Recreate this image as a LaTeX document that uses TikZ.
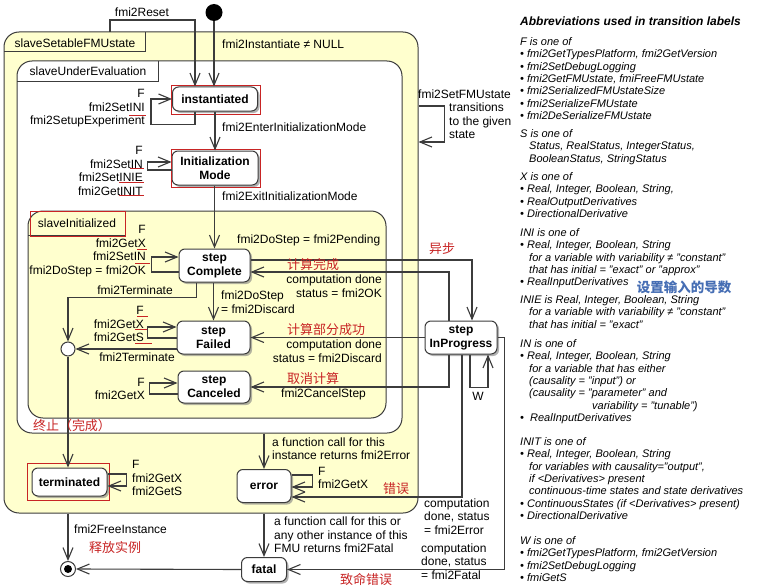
\documentclass[tikz,border=0pt]{standalone}
\usepackage{fontspec}
\setmainfont{Liberation Sans}
\newfontfamily\cjk{Noto Sans CJK SC}
\usetikzlibrary{arrows.meta,shadows}
\definecolor{linec}{RGB}{60,60,60}
\definecolor{compy}{RGB}{255,255,206}
\definecolor{hlred}{RGB}{200,36,36}
\definecolor{cnblue}{RGB}{70,110,180}
\tikzset{
  state/.style={draw=linec, fill=white, rounded corners=6pt, line width=1pt, inner sep=0pt, align=center,
    font=\bfseries\fontsize{12}{14}\selectfont, drop shadow={shadow xshift=2pt, shadow yshift=-2pt, fill=black!50, opacity=0.6}},
  comp/.style={draw=linec, line width=1pt, rounded corners=15pt, inner sep=0pt},
  tr/.style={draw=linec, line width=1.1pt, -{Straight Barb[length=12pt,width=10pt]}},
  lbl/.style={inner sep=0pt, align=left, font=\fontsize{12}{13.5}\selectfont},
  lblr/.style={lbl, align=right},
  cn/.style={inner sep=0pt, text=hlred, font=\cjk\fontsize{13}{14}\selectfont},
  hl/.style={draw=hlred, line width=0.9pt},
  abbr/.style={inner sep=0pt, anchor=north west, align=left, font=\itshape\fontsize{11}{12.3}\selectfont},
}

\begin{document}
\begin{tikzpicture}[x=1pt, y=-1pt]
		%%%%% START %%%%%
		\fill[white] (0,0) rectangle (758,586);
		\useasboundingbox (0,0) rectangle (758,586);
		
		% composite states
		\node[comp, fill=compy, minimum width=414pt, minimum height=481pt] (setable) at (211,272.5) {};
		\draw[linec, line width=1pt] (4,52) -| (145,32);
		\node[lbl] (tsetable) at (75,43) {slaveSetableFMUstate};
		
		\node[comp, fill=white, minimum width=385pt, minimum height=372pt] (undereval) at (209.5,247) {};
		\draw[linec, line width=1pt] (17,82) -| (158,61);
		\node[lbl] (tundereval) at (88,71) {slaveUnderEvaluation};
		
		\node[comp, fill=compy, minimum width=358pt, minimum height=207pt] (initd) at (207,314.5) {};
		\draw[linec, line width=1pt] (28,235) -| (125,211);
		\node[lbl] (tinitd) at (77,223) {slaveInitialized};
		\draw[hl] (30,211) rectangle (125,236);
		
		% states
		\node[fill=black, circle, minimum size=17pt, inner sep=0pt] (init) at (214,12.5) {};
		\node[state, minimum width=85pt, minimum height=24pt] (inst) at (215,99) {instantiated};
		\node[state, minimum width=86pt, minimum height=34pt] (initm) at (215,168) {Initialization\\Mode};
		\node[state, minimum width=71pt, minimum height=33pt] (stepc) at (214.5,265.5) {step\\Complete};
		\node[state, minimum width=73pt, minimum height=33pt] (stepf) at (213.5,337.5) {step\\Failed};
		\node[state, minimum width=72pt, minimum height=32pt] (stepx) at (214,387) {step\\Canceled};
		\node[state, minimum width=72pt, minimum height=33pt] (stepp) at (461,337.5) {step\\InProgress};
		\node[state, minimum width=75pt, minimum height=28pt] (term) at (69.5,482) {terminated};
		\node[state, minimum width=54pt, minimum height=33pt] (err) at (264,486) {error};
		\node[state, minimum width=45pt, minimum height=24pt] (fatal) at (264,569.5) {fatal};
		\node[draw=linec, fill=white, circle, line width=1pt, minimum size=14pt, inner sep=0pt] (junc) at (68,349) {};
		\node[draw=linec, fill=white, circle, line width=1pt, minimum size=15pt, inner sep=0pt,
			path picture={\fill[black] (path picture bounding box.center) circle (4pt);}] (final) at (68,569) {};
		
		% red highlights
		\draw[hl] (171,85) rectangle (260,114);
		\draw[hl] (171,149) rectangle (260,187);
		\draw[hl] (27,463) rectangle (109,500);
		\draw[hl] (129,115) -- (146,115);
		\draw[hl] (130,168.5) -- (144,168.5);
		\draw[hl] (119,182) -- (144,182);
		\draw[hl] (119,195) -- (144,195);
		\draw[hl] (137,249) -- (147,249);
		\draw[hl] (135,263) -- (150,263);
		\draw[hl] (137,316) -- (148,316);
		\draw[hl] (135,329) -- (148,329);
		\draw[hl] (135,343) -- (152,343);
		
		% transitions
		\draw[tr] (init.south) -- (init.south |- inst.north);
		\node[lbl, anchor=west] (linst) at (222,44) {fmi2Instantiate ≠ NULL};
		
		\coordinate (rstart) at (110,32);
		\draw[tr] (rstart) -- ++(0,-12) -| ([xshift=-20pt]inst.north);
		\node[lbl] (lreset) at (142,12) {fmi2Reset};
		
		\draw[tr] ([xshift=-20pt]inst.south) -- ++(0,13) -| ([xshift=-21pt]inst.west) -- (inst.west);
		\node[lblr, anchor=east] (lini) at (145,108.5) {F\\fmi2SetINI\\fmi2SetupExperiment};
		
		\draw[tr] (inst.south -| initm.north) -- (initm.north);
		\node[lbl, anchor=west] (lenter) at (222,127) {fmi2EnterInitializationMode};
		
		\draw[tr] ([yshift=-2pt]initm.west) -- ++(-24,0) |- ([yshift=6pt]initm.west);
		\node[lblr, anchor=east] (linit) at (143,171) {F\\fmi2SetIN\\fmi2SetINIE\\fmi2GetINIT};
		
		\draw[tr] (initm.south -| stepc.north) -- (stepc.north);
		\node[lbl, anchor=west] (lexit) at (222,196) {fmi2ExitInitializationMode};
		
		\draw[tr] ([yshift=-6.5pt]stepc.west) -- ++(-27,0) |- ([yshift=8.5pt]stepc.west);
		\node[lblr, anchor=east] (lstepc) at (146,251) {F\\fmi2GetX\\fmi2SetIN\\fmi2DoStep = fmi2OK};
		
		\draw[tr] (stepc.south -| stepf.north) -- (stepf.north);
		\node[lbl, anchor=west] (ldiscard) at (221,302) {fmi2DoStep\\= fmi2Discard};
		
		\draw[tr] ([yshift=5.5pt]stepc.east) -| ([xshift=11pt]stepp.north);
		\node[lbl, anchor=west] (lpending) at (237,240) {fmi2DoStep = fmi2Pending};
		\node[cn] (cnasync) at (442,249) {异步};
		
		\draw[tr] ([xshift=-12pt]stepp.north) |- ([yshift=-6.5pt]stepc.east);
		\node[cn] (cnok) at (313,265) {计算完成};
		\node[lblr, anchor=east] (lok) at (382,286) {computation done\\status = fmi2OK};
		
		\draw[tr] (stepp.west) -- (stepf.east);
		\node[cn] (cndisc) at (326,330) {计算部分成功};
		\node[lblr, anchor=east] (ldisc) at (382,351) {computation done\\status = fmi2Discard};
		
		\draw[tr] ([xshift=-12pt]stepp.south) |- (stepx.east);
		\node[cn] (cncancel) at (313,379) {取消计算};
		\node[lbl, anchor=west] (lcancel) at (281,394) {fmi2CancelStep};
		
		\draw[tr] ([xshift=9pt]stepp.south) -- ++(0,33) -| ([xshift=27pt]stepp.south);
		\node[lbl] (lw) at (478,396) {W};
		
		\draw[tr] ([yshift=-0.5pt]stepf.west) -- ++(-29,0) |- ([yshift=10.5pt]stepf.west);
		\node[lblr, anchor=east] (lstepf) at (144,324) {F\\fmi2GetX\\fmi2GetS};
		
		\draw[tr] ([yshift=-7pt]stepx.west) -- ++(-28,0) |- ([yshift=4pt]stepx.west);
		\node[lblr, anchor=east] (lstepx) at (145,389) {F\\fmi2GetX};
		
		\draw[tr] ([xshift=-18pt]stepc.south) -- ++(0,15) -| (junc.north);
		\node[lbl] (lterm1) at (135,290) {fmi2Terminate};
		\draw[tr] (stepf.west |- junc) -- (junc.east);
		\node[lbl] (lterm2) at (137,357) {fmi2Terminate};
		
		\draw[tr] (junc.south) -- (junc |- term.north);
		\node[cn] (cnterm) at (72,426) {终止（完成）};
		
		\draw[tr] ([yshift=8pt]term.east) -- ++(19,0) |- ([yshift=-4pt]term.east);
		\node[lbl, anchor=west] (lterm) at (132,478) {F\\fmi2GetX\\fmi2GetS};
		
		\draw[tr] (undereval.south -| err) -- (err.north);
		\node[lbl, anchor=west] (lerror) at (272,448.5) {a function call for this\\instance returns fmi2Error};
		
		\draw[tr] ([yshift=11pt]err.east) -- ++(21,0) |- ([yshift=-1pt]err.east);
		\node[lbl, anchor=west] (lerrloop) at (318,478) {F\\fmi2GetX};
		
		\draw[tr] ([xshift=1pt]stepp.south) |- ([yshift=-11pt]err.east);
		\node[cn] (cnerr) at (396,489) {错误};
		\node[lbl, anchor=west] (lpend1) at (424,516.5) {computation\\done, status\\= fmi2Error};
		
		\draw[tr] (setable.south -| fatal) -- (fatal.north);
		\node[lbl, anchor=west] (lfatal) at (274,535) {a function call for this or\\any other instance of this\\FMU returns fmi2Fatal};
		
		\draw[tr] (stepp.east) -- ++(7,0) |- (fatal.east);
		\node[lbl, anchor=west] (lpend2) at (421,561.5) {computation\\done, status\\= fmi2Fatal};
		\node[cn] (cnfatal) at (366,579) {致命错误};
		
		\draw[tr] (fatal.west) -- (final.east);
		\draw[tr] (setable.south -| final) -- (final.north);
		\node[lbl, anchor=west] (lfree) at (74,529) {fmi2FreeInstance};
		\node[cn] (cnfree) at (115,548) {释放实例};
		
		\draw[tr] ([yshift=166.5pt]setable.east) -- ++(26,0) |- ([yshift=130.5pt]setable.east);
		\node[lbl, anchor=west] (lsetfmu) at (418,94) {fmi2SetFMUstate};
		\node[lbl, anchor=west] (lgiven) at (449,121) {transitions\\to the given\\state};
		
		% abbreviations
		\node[inner sep=0pt, anchor=west, font=\bfseries\itshape\fontsize{12}{13}\selectfont] (abtitle) at (520,21)
			{Abbreviations used in transition labels};
		\node[abbr] (abf) at (520,37.5) {F is one of\\
			• fmi2GetTypesPlatform, fmi2GetVersion\\
			• fmi2SetDebugLogging\\
			• fmi2GetFMUstate, fmiFreeFMUstate\\
			• fmi2SerializedFMUstateSize\\
			• fmi2SerializeFMUstate\\
			• fmi2DeSerializeFMUstate};
		\node[abbr] (abs) at (520,129.5) {S is one of\\
			\hspace*{9pt}Status, RealStatus, IntegerStatus,\\
			\hspace*{9pt}BooleanStatus, StringStatus};
		\node[abbr] (abx) at (520,172.5) {X is one of\\
			• Real, Integer, Boolean, String,\\
			• RealOutputDerivatives\\
			• DirectionalDerivative};
		\node[abbr] (abini) at (520,228.5) {INI is one of\\
			• Real, Integer, Boolean, String\\
			\hspace*{9pt}for a variable with variability ≠ "constant"\\
			\hspace*{9pt}that has initial = "exact" or "approx"\\
			• RealInputDerivatives};
		\node[inner sep=0pt, text=cnblue, font=\cjk\bfseries\fontsize{13.5}{14}\selectfont] (cnderiv) at (684,287) {设置输入的导数};
		\node[abbr] (abinie) at (520,295.5) {INIE is Real, Integer, Boolean, String\\
			\hspace*{9pt}for a variable with variability ≠ "constant"\\
			\hspace*{9pt}that has initial = "exact"};
		\node[abbr] (abin) at (520,339.5) {IN is one of\\
			• Real, Integer, Boolean, String\\
			\hspace*{9pt}for a variable that has either\\
			\hspace*{9pt}(causality = "input") or\\
			\hspace*{9pt}(causality = "parameter" and\\
			\hspace*{72pt}variability = "tunable")\\
			•\ \ RealInputDerivatives};
		\node[abbr] (abinit) at (520,437.5) {INIT is one of\\
			• Real, Integer, Boolean, String\\
			\hspace*{9pt}for variables with causality="output",\\
			\hspace*{9pt}if <Derivatives> present\\
			\hspace*{9pt}continuous-time states and state derivatives\\
			• ContinuousStates (if <Derivatives> present)\\
			• DirectionalDerivative};
		\node[abbr] (abw) at (520,536.5) {W is one of\\
			• fmi2GetTypesPlatform, fmi2GetVersion\\
			• fmi2SetDebugLogging\\
			• fmiGetS};
		%%%%% END %%%%%
\end{tikzpicture}
\end{document}
